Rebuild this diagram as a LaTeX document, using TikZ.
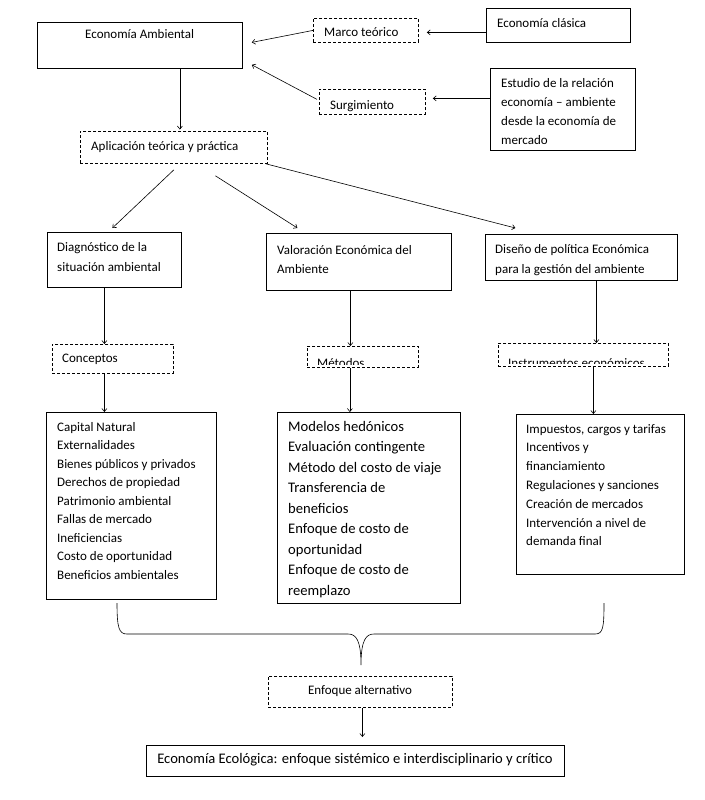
\documentclass[tikz,border=0pt]{standalone}
\usepackage{fontspec}
\setmainfont{Carlito}
\usetikzlibrary{arrows.meta}
\newcommand{\smallfs}{\fontsize{13}{18.5}\selectfont}
\newcommand{\largefs}{\fontsize{14.6}{20.5}\selectfont}
\tikzset{
  box/.style={draw, line width=0.8pt, inner sep=0pt, anchor=north west},
  dbox/.style={box, dash pattern=on 3pt off 2pt},
  txt/.style={anchor=base west, inner sep=0pt, font=\smallfs},
  arr/.style={line width=0.6pt, -{Straight Barb[length=3pt,width=5pt]}},
}
\begin{document}
\begin{tikzpicture}[x=1pt, y=-1pt]
  \useasboundingbox (0,0) rectangle (704,800);
  % top part
  \node[box, minimum width=205pt, minimum height=46pt] (ecoamb) at (37,22) {};
  \node[txt] (ecoambtxt) at (85,39) {Economía Ambiental};
  \node[dbox, minimum width=105pt, minimum height=24pt] (marco) at (313,18) {};
  \node[txt] (marcotxt) at (324,36.5) {Marco teórico};
  \node[box, minimum width=144pt, minimum height=34pt] (clasica) at (486,8) {};
  \node[txt] (clasicatxt) at (497,27.3) {Economía clásica};
  \node[dbox, minimum width=106pt, minimum height=25pt] (surg) at (319,89) {};
  \node[txt] (surgtxt) at (330,109) {Surgimiento};
  \node[box, minimum width=145pt, minimum height=82pt] (estudio) at (490,68) {};
  \foreach \lin [count=\row from 0] in
    {Estudio de la relación, economía – ambiente, desde la economía de, mercado}
    \node[txt] (estudio\row) at (501,87+19*\row) {\lin};
  \node[dbox, minimum width=187pt, minimum height=32pt] (apl) at (80,131) {};
  \node[txt] (apltxt) at (91,150) {Aplicación teórica y práctica};

  % three branches
  \node[box, minimum width=134pt, minimum height=55pt] (diag) at (47,232) {};
  \foreach \lin [count=\row from 0] in {Diagnóstico de la, situación ambiental}
    \node[txt] (diag\row) at (57,251+20*\row) {\lin};
  \node[box, minimum width=185pt, minimum height=57pt] (valor) at (266,233) {};
  \foreach \lin [count=\row from 0] in {Valoración Económica del, Ambiente}
    \node[txt] (valor\row) at (277,254+19*\row) {\lin};
  \node[box, minimum width=192pt, minimum height=46pt] (diseno) at (485,234) {};
  \foreach \lin [count=\row from 0] in {Diseño de política Económica, para la gestión del ambiente}
    \node[txt] (diseno\row) at (495,253.5+19.5*\row) {\lin};

  \node[dbox, minimum width=121pt, minimum height=29pt] (concep) at (52,344) {};
  \node[txt] (conceptxt) at (62,362) {Conceptos};
  \node[dbox, minimum width=111pt, minimum height=21pt] (metod) at (307,346) {};
  \begin{scope}
    \clip (metod.north west) rectangle ([yshift=3pt]metod.south east);
    \node[txt] (metodtxt) at (317,367) {Métodos};
  \end{scope}
  \node[dbox, minimum width=170pt, minimum height=23pt] (instr) at (498,343) {};
  \begin{scope}
    \clip (instr.north west) rectangle ([yshift=3pt]instr.south east);
    \node[txt] (instrtxt) at (508,367) {Instrumentos económicos};
  \end{scope}

  % lists
  \node[box, minimum width=170pt, minimum height=187pt] (conlist) at (46,412) {};
  \foreach \lin [count=\row from 0] in
    {Capital  Natural, Externalidades, Bienes públicos y privados,
     Derechos de propiedad, Patrimonio ambiental, Fallas de mercado,
     Ineficiencias, Costo de oportunidad, Beneficios ambientales}
    \node[txt] (con\row) at (57,431+18.5*\row) {\lin};
  \node[box, minimum width=183pt, minimum height=191pt] (metlist) at (277,412) {};
  \foreach \lin [count=\row from 0] in
    {Modelos hedónicos, Evaluación contingente, Método del costo de viaje,
     Transferencia de, beneficios, Enfoque de costo de, oportunidad,
     Enfoque de costo de, reemplazo}
    \node[txt, font=\largefs] (met\row) at (288,431+20.5*\row) {\lin};
  \node[box, minimum width=168pt, minimum height=160pt] (instlist) at (516,414) {};
  \foreach \lin [count=\row from 0] in
    {{Impuestos, cargos y tarifas}, Incentivos y, financiamiento,
     Regulaciones y sanciones, Creación de mercados,
     Intervención a nivel de, demanda final}
    \node[txt] (inst\row) at (526,433+18.8*\row) {\lin};

  % brace and bottom
  \draw[line width=0.6pt] (117,603) .. controls (117,628) and (119,634) .. (127,634)
    -- (348,634) .. controls (356,634) and (361,640) .. (361,665)
    coordinate (bracetip)
    .. controls (361,640) and (366,634) .. (374,634)
    -- (595,634) .. controls (603,634) and (604,628) .. (604,603);
  \node[dbox, minimum width=184pt, minimum height=31pt] (enfoque) at (268,676) {};
  \node[anchor=base, inner sep=0pt, font=\smallfs] (enfoquetxt) at (360,694) {Enfoque alternativo};
  \node[box, minimum width=418pt, minimum height=31pt] (ecol) at (146,745) {};
  \node[anchor=base, inner sep=0pt, font=\largefs] (ecoltxt) at (355,763)
    {Economía Ecológica: enfoque sistémico e interdisciplinario y crítico};

  % connectors
  \draw[arr] ([yshift=-7pt]clasica.west) -- ([xshift=8pt,yshift=-2pt]marco.east);
  \draw[arr] (marco.west) -- ([xshift=9pt,yshift=3pt]ecoamb.east);
  \draw[arr] ([yshift=11pt]estudio.west) -- ([xshift=7pt,yshift=3.5pt]surg.east);
  \draw[arr] ([xshift=-2pt,yshift=2.5pt]surg.west) -- ([xshift=9pt,yshift=4pt]ecoamb.south east);
  \draw[arr] ([xshift=40pt]ecoamb.south) -- ([xshift=40pt,yshift=1.5pt]ecoamb.south |- apl.north);
  \draw[arr] ([yshift=-6pt]apl.south) -- ([xshift=-2pt,yshift=4pt]diag.north);
  \draw[arr] ([xshift=41.5pt,yshift=-12pt]apl.south) -- ([xshift=-61.5pt,yshift=5pt]valor.north);
  \draw[arr] ([xshift=-2pt]apl.south east) -- ([xshift=-66pt,yshift=6pt]diseno.north);
  \draw[arr] ([xshift=-10pt]diag.south) -- ([xshift=-10pt]diag.south |- concep.north);
  \draw[arr] ([xshift=-8.5pt]valor.south) -- ([xshift=-8.5pt]valor.south |- metod.north);
  \draw[arr] ([xshift=15pt]diseno.south) -- ([xshift=15pt]diseno.south |- instr.north);
  \draw[arr] ([xshift=-10pt]diag.south |- concep.south) -- ([xshift=-10pt]diag.south |- conlist.north);
  \draw[arr] ([xshift=-9pt]valor.south |- metod.south) -- ([xshift=-9pt]valor.south |- metlist.north);
  \draw[arr] ([xshift=12pt]diseno.south |- instr.south) -- ([xshift=12pt]diseno.south |- instlist.north);
  \draw[arr, shorten >=8pt] ([xshift=2pt]enfoque.south) -- ([xshift=2pt]enfoque.south |- ecol.north);
\end{tikzpicture}
\end{document}
